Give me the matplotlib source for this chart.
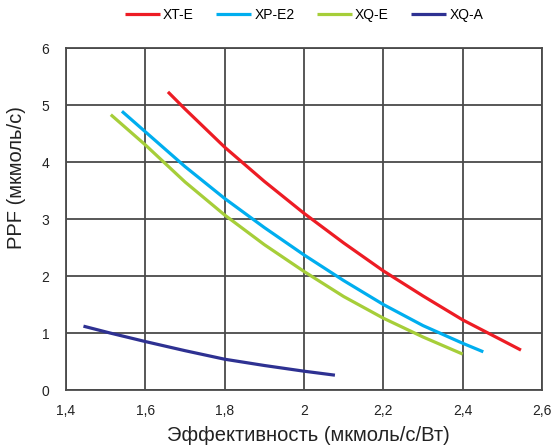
import matplotlib

matplotlib.use("Agg")
import matplotlib.pyplot as plt
from matplotlib.ticker import FuncFormatter

plt.rcParams["font.family"] = ["Liberation Sans", "DejaVu Sans"]

# Data (efficiency, PPF)
xt_e_x = [1.657, 1.7, 1.8, 1.9, 2.0, 2.1, 2.2, 2.3, 2.4, 2.5, 2.547]
xt_e_y = [5.23, 4.93, 4.26, 3.66, 3.10, 2.58, 2.09, 1.65, 1.23, 0.87, 0.70]

xp_e2_x = [1.541, 1.6, 1.7, 1.8, 1.9, 2.0, 2.1, 2.2, 2.3, 2.4, 2.452]
xp_e2_y = [4.89, 4.53, 3.92, 3.36, 2.85, 2.37, 1.92, 1.50, 1.13, 0.82, 0.67]

xq_e_x = [1.513, 1.6, 1.7, 1.8, 1.9, 2.0, 2.1, 2.2, 2.3, 2.4]
xq_e_y = [4.83, 4.30, 3.65, 3.07, 2.55, 2.08, 1.64, 1.26, 0.93, 0.63]

xq_a_x = [1.444, 1.511, 1.6, 1.7, 1.8, 1.9, 2.0, 2.078]
xq_a_y = [1.12, 1.00, 0.85, 0.69, 0.54, 0.43, 0.33, 0.26]

series = [
    ("XT-E", xt_e_x, xt_e_y, "#ed1c24"),
    ("XP-E2", xp_e2_x, xp_e2_y, "#00aeef"),
    ("XQ-E", xq_e_x, xq_e_y, "#a6ce39"),
    ("XQ-A", xq_a_x, xq_a_y, "#2e3192"),
]

x_ticks = [1.4, 1.6, 1.8, 2.0, 2.2, 2.4, 2.6]
y_ticks = [0, 1, 2, 3, 4, 5, 6]

GRID = "#4a4a4a"
TEXT = "#222222"

fig = plt.figure(figsize=(5.53, 4.48), dpi=100)
ax = fig.add_axes([66 / 553, 58 / 448, 476 / 553, 342 / 448])

for name, xs, ys, color in series:
    ax.plot(xs, ys, color=color, lw=2.3, label=name, solid_capstyle="butt", zorder=3)

ax.set_xlim(1.4, 2.6)
ax.set_ylim(0, 6)
ax.set_xticks(x_ticks)
ax.set_yticks(y_ticks)


def comma(v, _pos):
    s = f"{v:.1f}".rstrip("0").rstrip(".")
    return s.replace(".", ",")


ax.xaxis.set_major_formatter(FuncFormatter(comma))
ax.grid(True, color=GRID, lw=1.3, zorder=1)
for sp in ax.spines.values():
    sp.set_color(GRID)
    sp.set_linewidth(1.3)
ax.tick_params(length=0, labelsize=10, colors=TEXT, pad=10)
ax.tick_params(axis="y", pad=12)

ax.set_xlabel("Эффективность (мкмоль/с/Вт)", fontsize=14.5, color=TEXT)
ax.xaxis.set_label_coords(0.51, -0.105)
ax.set_ylabel("PPF (мкмоль/с)", fontsize=14.5, color=TEXT)
ax.yaxis.set_label_coords(-0.084, 0.62)

fig.legend(loc="center", bbox_to_anchor=(304 / 553, 1 - 15 / 448), ncol=4, frameon=False,
           fontsize=10, handlelength=2.5, handletextpad=0.25, columnspacing=1.6,
           borderpad=0)

fig.savefig("out.png", dpi=100)
